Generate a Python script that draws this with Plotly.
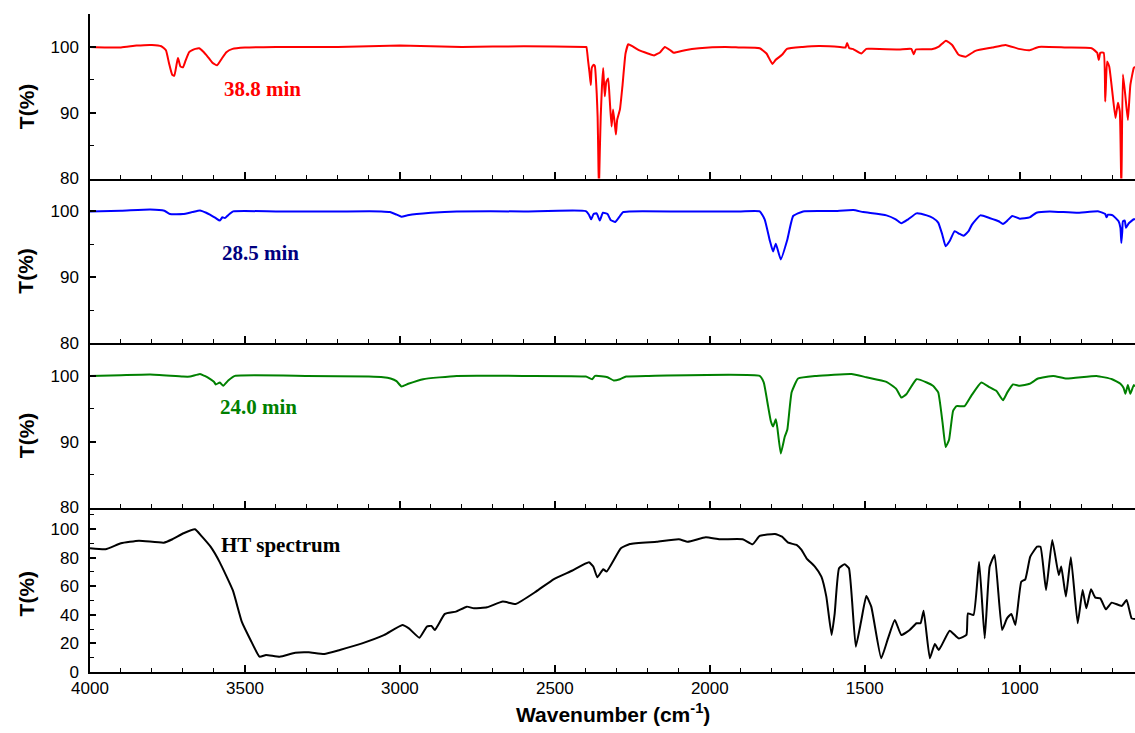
import plotly.graph_objects as go
from plotly.subplots import make_subplots

# ---- data (wavenumber cm-1, transmittance %) ----
red_w = [4000, 3900, 3850, 3800, 3770, 3755, 3745, 3735, 3728, 3720, 3716, 3708, 3700, 3691, 3680, 3670,
         3660, 3648, 3635, 3620, 3605, 3590, 3575, 3560, 3540, 3500, 3400, 3200, 3000, 2800, 2600, 2400,
         2398, 2393, 2388, 2384, 2381, 2375, 2371, 2365, 2362, 2360, 2358, 2355, 2352, 2348, 2344, 2339,
         2334, 2328, 2323, 2317, 2312, 2306, 2303, 2299, 2290, 2282, 2272, 2263, 2250, 2229, 2200, 2180,
         2160, 2145, 2125, 2116, 2080, 2035, 1950, 1903, 1839, 1817, 1798, 1788, 1767, 1751, 1700, 1648,
         1580, 1562, 1557, 1550, 1539, 1511, 1495, 1477, 1390, 1350, 1342, 1335, 1284, 1261, 1238, 1218,
         1197, 1175, 1143, 1089, 1046, 1003, 968, 939, 850, 768, 750, 745, 740, 729, 724, 718, 711, 702,
         691, 683, 677, 672, 667, 659, 651, 643, 632, 628]
red_t = [100, 99.9, 100.2, 100.3, 100.1, 99.5, 97.5, 95.8, 95.6, 97.5, 98.3, 97, 96.9, 98, 99.2, 99.5,
         99.7, 99.8, 99.3, 98.5, 97.6, 97.2, 98.2, 99.2, 99.7, 99.9, 100, 100, 100.2, 100, 100.1, 100,
         100, 98, 96, 94.2, 96.8, 97.3, 97.1, 93, 89.4, 84, 78, 84, 89.4, 94, 96.8, 92.5,
         94.7, 95.2, 92, 87.9, 90.5, 88, 86.7, 88.9, 90.5, 94, 99, 100.4, 100.1, 99.5, 99.0, 98.7,
         99.2, 100, 99.4, 99.1, 99.5, 99.8, 100, 99.9, 99.8, 99, 97.4, 98, 98.8, 99.7, 100, 100.15,
         100, 99.9, 100.6, 99.8, 99.7, 99, 99.7, 99.7, 99.6, 99.7, 98.9, 99.6, 99.65, 100.05, 100.95, 100.3,
         98.8, 98.5, 99.4, 99.9, 100.3, 99.7, 99.5, 100, 99.9, 99.8, 99.1, 98, 99.1, 99.1, 91.7, 97.8, 97, 93.5,
         89.2, 91.5, 90.2, 78, 95.8, 92.5, 88.9, 94.2, 96.8, 97]

blue_w = [4000, 3900, 3806, 3760, 3742, 3700, 3670, 3645, 3625, 3613, 3595, 3581, 3573, 3565, 3550, 3538,
          3400, 3200, 3060, 3032, 3010, 2995, 2975, 2946, 2900, 2817, 2600, 2400, 2390, 2383, 2375, 2365,
          2355, 2345, 2330, 2320, 2305, 2290, 2280, 2260, 2100, 2032, 1900, 1839, 1823, 1806, 1796, 1787,
          1771, 1750, 1731, 1699, 1602, 1537, 1505, 1430, 1400, 1382, 1360, 1333, 1300, 1280, 1263, 1250,
          1239, 1226, 1210, 1195, 1181, 1165, 1154, 1127, 1098, 1068, 1054, 1040, 1024, 1000, 968, 946,
          903, 817, 745, 724, 720, 715, 700, 681, 675, 672, 669, 667, 661, 657, 648, 632, 628]
blue_t = [100, 100.1, 100.3, 100.1, 99.6, 99.6, 99.9, 100.15, 99.8, 99.5, 99, 98.6, 99.1, 99, 99.6, 100,
          100, 100, 100, 99.9, 99.5, 99.2, 99.4, 99.6, 99.8, 100, 100, 100.05, 99.5, 98.8, 99.6, 99.7,
          98.6, 99.8, 99.6, 98.7, 98.4, 99.3, 99.9, 100, 100, 100, 100, 100, 98.8, 95.5, 93.9, 95.1,
          92.7, 95.7, 99.3, 100, 100.05, 100.2, 99.9, 99.4, 98.8, 98.2, 98.8, 99.7, 99.4, 99, 98.3, 96.5,
          94.7, 95.5, 97, 96.6, 96.3, 97, 98, 99.4, 99, 98.5, 98.1, 98.6, 99.3, 98.9, 99.1, 99.8,
          100, 99.8, 100, 99.6, 99.1, 99.5, 99.4, 98.5, 97.5, 95.2, 97, 98.5, 98.6, 97.5, 98.2, 98.8, 98.8]

green_w = [4000, 3900, 3806, 3700, 3677, 3645, 3630, 3618, 3600, 3594, 3581, 3570, 3554, 3532, 3300, 3100,
           3054, 3030, 3011, 2995, 2973, 2925, 2817, 2600, 2400, 2380, 2370, 2330, 2310, 2290, 2270, 2200,
           1839, 1826, 1812, 1803, 1796, 1787, 1782, 1771, 1758, 1750, 1736, 1715, 1656, 1543, 1495, 1430,
           1398, 1382, 1366, 1333, 1300, 1280, 1263, 1249, 1239, 1228, 1215, 1204, 1178, 1156, 1124, 1098,
           1075, 1054, 1040, 1022, 1000, 968, 941, 892, 849, 752, 702, 675, 665, 659, 651, 643, 632, 628]
green_t = [100, 100.1, 100.2, 99.9, 99.9, 100.3, 100, 99.7, 99.1, 98.7, 99, 98.5, 99.3, 100, 100, 99.9,
           99.8, 99.6, 99.2, 98.4, 98.8, 99.5, 100, 100, 99.9, 99.5, 100, 99.8, 99.3, 99.5, 99.9, 100,
           100, 99, 95.4, 93.1, 92.3, 93.4, 92.1, 88.2, 90.8, 91.8, 97.5, 99.6, 100, 100.3, 99.8, 99.1,
           98, 96.7, 97.2, 99.5, 99, 98.5, 97.5, 92.9, 89.2, 90.3, 94.7, 95.4, 95.4, 97, 99, 98.3,
           97.7, 96.3, 97.5, 98.7, 98.5, 98.8, 99.6, 100, 99.6, 100, 99.5, 98.8, 98.2, 97.3, 98.6, 97.3, 98.6, 98.4]

black_w = [4000, 3950, 3900, 3842, 3762, 3734, 3698, 3661, 3640, 3611, 3582, 3539, 3510, 3482, 3453, 3432,
           3388, 3338, 3294, 3244, 3194, 3122, 3050, 2992, 2971, 2937, 2913, 2898, 2887, 2855, 2819, 2784,
           2761, 2719, 2668, 2626, 2561, 2503, 2445, 2390, 2376, 2363, 2344, 2333, 2287, 2258, 2171, 2100,
           2071, 2013, 1968, 1894, 1862, 1839, 1790, 1767, 1747, 1720, 1704, 1688, 1661, 1640, 1624, 1607,
           1597, 1583, 1565, 1551, 1529, 1511, 1495, 1479, 1447, 1425, 1403, 1382, 1355, 1333, 1320, 1310,
           1290, 1274, 1261, 1226, 1197, 1172, 1167, 1149, 1131, 1113, 1097, 1081, 1057, 1041, 1027, 1014,
           995, 982, 966, 944, 933, 915, 895, 874, 866, 851, 835, 813, 797, 785, 770, 756, 740, 722, 703,
           671, 655, 639, 628]
black_t = [86.5, 85.8, 90, 91.8, 90.4, 92.8, 97, 99.8, 95, 87.6, 77, 57, 35, 22.4, 10.7, 11.9,
           10.7, 13.5, 13.8, 12.6, 15.4, 20, 25.9, 32.9, 30.5, 24, 31.7, 32.2, 29.4, 40.6, 42.2, 45.7,
           44.5, 45.2, 49.2, 47.6, 56.2, 65, 70.8, 76.7, 73.7, 66.2, 71.8, 70.2, 86.5, 89.5, 91.1, 92.8,
           91.1, 94.2, 92.8, 92.8, 89.3, 95.1, 96.5, 94.6, 90.4, 88.8, 85.3, 79.5, 73.7, 66.7, 52.7, 25.9,
           41, 72.5, 75.3, 72.5, 17.7, 36.4, 53.1, 45.7, 9.6, 23.5, 36.4, 25.9, 29.4, 34.1, 34.1, 42.9,
           9.6, 19.6, 15.4, 28.9, 23.5, 25.9, 41, 39.9, 77.1, 23.5, 73.7, 81.8, 29.4, 37.5, 40.6, 32.9,
           63.1, 64.8, 80.6, 87.6, 87.6, 57.3, 92.3, 67.8, 73.7, 52.7, 80.2, 34.1, 57.3, 44.5, 57.8, 52, 51.5, 43.8, 48.5,
           46.2, 50.3, 37.5, 37]

labels = ["38.8 min", "28.5 min", "24.0 min", "HT spectrum"]
label_colors = ["#ff0000", "#000080", "#008000", "#000000"]
line_colors = ["#ff0000", "#0000ff", "#008000", "#000000"]
label_pos = [(3574, 93.6), (3581, 93.7), (3588, 95.2), (3584, 88.8)]
series = [(red_w, red_t), (blue_w, blue_t), (green_w, green_t), (black_w, black_t)]

fig = make_subplots(rows=4, cols=1, shared_xaxes=True, vertical_spacing=0)

for i, (w, t) in enumerate(series):
    fig.add_trace(go.Scatter(x=w, y=t, mode="lines",
                             line=dict(color=line_colors[i], width=2, shape="spline", smoothing=0.4),
                             showlegend=False, hoverinfo="skip"), row=i + 1, col=1)

tick_font = dict(family="Liberation Sans, Arial", size=17, color="black")

for i in range(4):
    fig.update_xaxes(range=[4000, 628], tickmode="linear", tick0=0, dtick=500,
                     ticks="inside", ticklen=7, tickwidth=1.5, tickcolor="black",
                     minor=dict(dtick=100, tick0=0, ticks="inside", ticklen=4, tickwidth=1.2, tickcolor="black"),
                     showline=True, linecolor="black", linewidth=1.5, showgrid=False, zeroline=False,
                     tickfont=tick_font, ticklabelstandoff=0, row=i + 1, col=1)
    if i < 3:
        fig.update_yaxes(range=[80, 105], tickmode="linear", tick0=0, dtick=10,
                         minor=dict(dtick=5, tick0=0, ticks="inside", ticklen=4, tickwidth=1.2, tickcolor="black"),
                         row=i + 1, col=1)
    else:
        fig.update_yaxes(range=[0, 115], tickmode="linear", tick0=0, dtick=20,
                         minor=dict(dtick=10, tick0=0, ticks="inside", ticklen=4, tickwidth=1.2, tickcolor="black"),
                         row=i + 1, col=1)
    fig.update_yaxes(ticks="inside", ticklen=6, tickwidth=1.5, tickcolor="black",
                     showline=True, linecolor="black", linewidth=1.5, showgrid=False, zeroline=False,
                     tickfont=tick_font, ticklabelstandoff=6, row=i + 1, col=1)

annotations = []
yrefs = ["y", "y2", "y3", "y4"]
title_y = [91, 91, 91, 55]
for i in range(4):
    annotations.append(dict(x=label_pos[i][0], y=label_pos[i][1], xref="x" if i == 0 else "x%d" % (i + 1),
                            yref=yrefs[i], text="<b>%s</b>" % labels[i], showarrow=False,
                            xanchor="left", yanchor="middle",
                            font=dict(family="Liberation Serif, Times New Roman", size=21, color=label_colors[i])))
    annotations.append(dict(x=-0.0612, y=title_y[i], xref="paper", yref=yrefs[i], text="<b>T(%)</b>",
                            showarrow=False, textangle=-90, xanchor="center", yanchor="middle",
                            font=dict(family="Liberation Sans, Arial", size=21, color="black")))

annotations.append(dict(x=0.5, y=-0.0623, xref="paper", yref="paper",
                        text="<b>Wavenumber (cm<sup>-1</sup>)</b>", showarrow=False,
                        xanchor="center", yanchor="middle",
                        font=dict(family="Liberation Sans, Arial", size=21, color="black")))

fig.update_layout(width=1135, height=733, margin=dict(l=90, r=0, t=14, b=61),
                  paper_bgcolor="white", plot_bgcolor="white", annotations=annotations)

fig.write_html("out.html", config={"displayModeBar": False},
               post_script="document.body.style.margin='0';document.body.style.overflow='hidden';")
